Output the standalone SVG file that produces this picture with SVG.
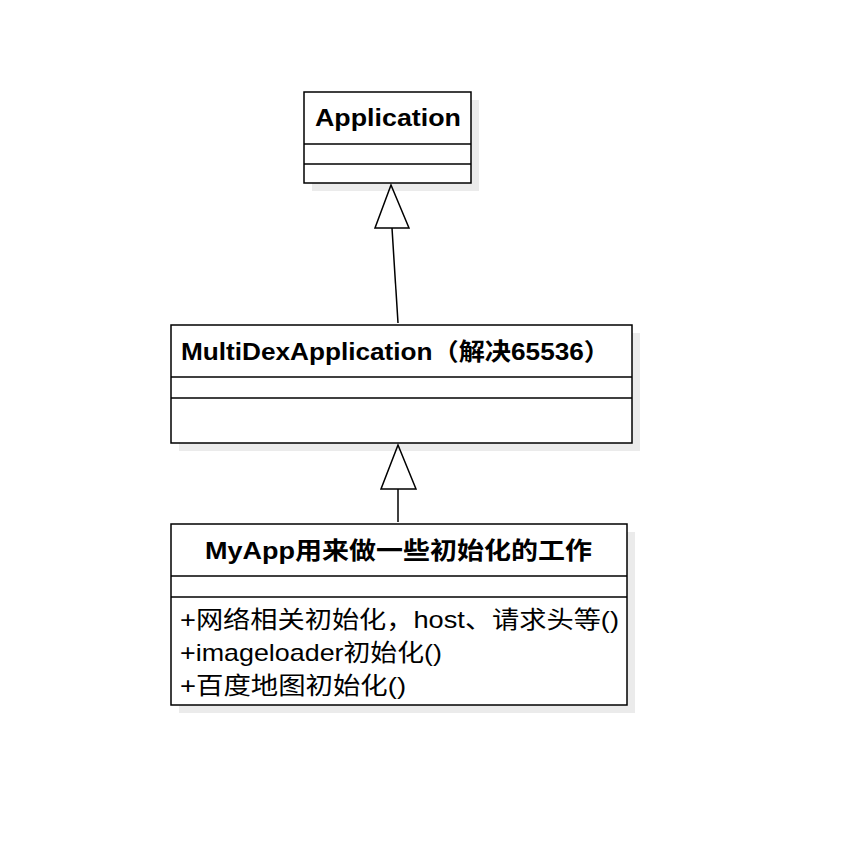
<svg xmlns="http://www.w3.org/2000/svg" width="842" height="852" viewBox="0 0 842 852">
<style>
.b{fill:#fff;stroke:#000;stroke-width:1.5}
.s{fill:#000;opacity:0.08}
.l{stroke:#000;stroke-width:1.5;fill:none}
.t{font-family:"Liberation Sans","Noto Sans CJK SC",sans-serif;font-size:24px;fill:#000}
.h{font-weight:bold}
</style>
<rect width="842" height="852" fill="#fff"/>
<g id="connectors">
<line class="l" x1="398" y1="323" x2="392" y2="228"/>
<polygon class="b" points="391,185 375,228 409,228"/>
<line class="l" x1="398" y1="522" x2="398" y2="489"/>
<polygon class="b" points="398,445 381,489 416,489"/>
</g>
<g id="application">
<rect class="s" x="312" y="100" width="167" height="91"/>
<rect class="b" x="304" y="92" width="167" height="91"/>
<line class="l" x1="304" y1="144" x2="471" y2="144"/>
<line class="l" x1="304" y1="164" x2="471" y2="164"/>
<text class="t h" x="315" y="126" textLength="146" lengthAdjust="spacingAndGlyphs">Application</text>
</g>
<g id="multidex">
<rect class="s" x="179" y="333" width="461" height="118"/>
<rect class="b" x="171" y="325" width="461" height="118"/>
<line class="l" x1="171" y1="377" x2="632" y2="377"/>
<line class="l" x1="171" y1="398" x2="632" y2="398"/>
<text class="t h" x="181" y="360" textLength="429" lengthAdjust="spacingAndGlyphs">MultiDexApplication（解决65536）</text>
</g>
<g id="myapp">
<rect class="s" x="179" y="532" width="456" height="181"/>
<rect class="b" x="171" y="524" width="456" height="181"/>
<line class="l" x1="171" y1="576" x2="627" y2="576"/>
<line class="l" x1="171" y1="597" x2="627" y2="597"/>
<text class="t h" x="205" y="559" textLength="387" lengthAdjust="spacingAndGlyphs">MyApp用来做一些初始化的工作</text>
<text class="t" x="180" y="628" textLength="439" lengthAdjust="spacingAndGlyphs">+网络相关初始化，host、请求头等()</text>
<text class="t" x="180" y="661" textLength="262" lengthAdjust="spacingAndGlyphs">+imageloader初始化()</text>
<text class="t" x="180" y="694" textLength="226" lengthAdjust="spacingAndGlyphs">+百度地图初始化()</text>
</g>
</svg>
